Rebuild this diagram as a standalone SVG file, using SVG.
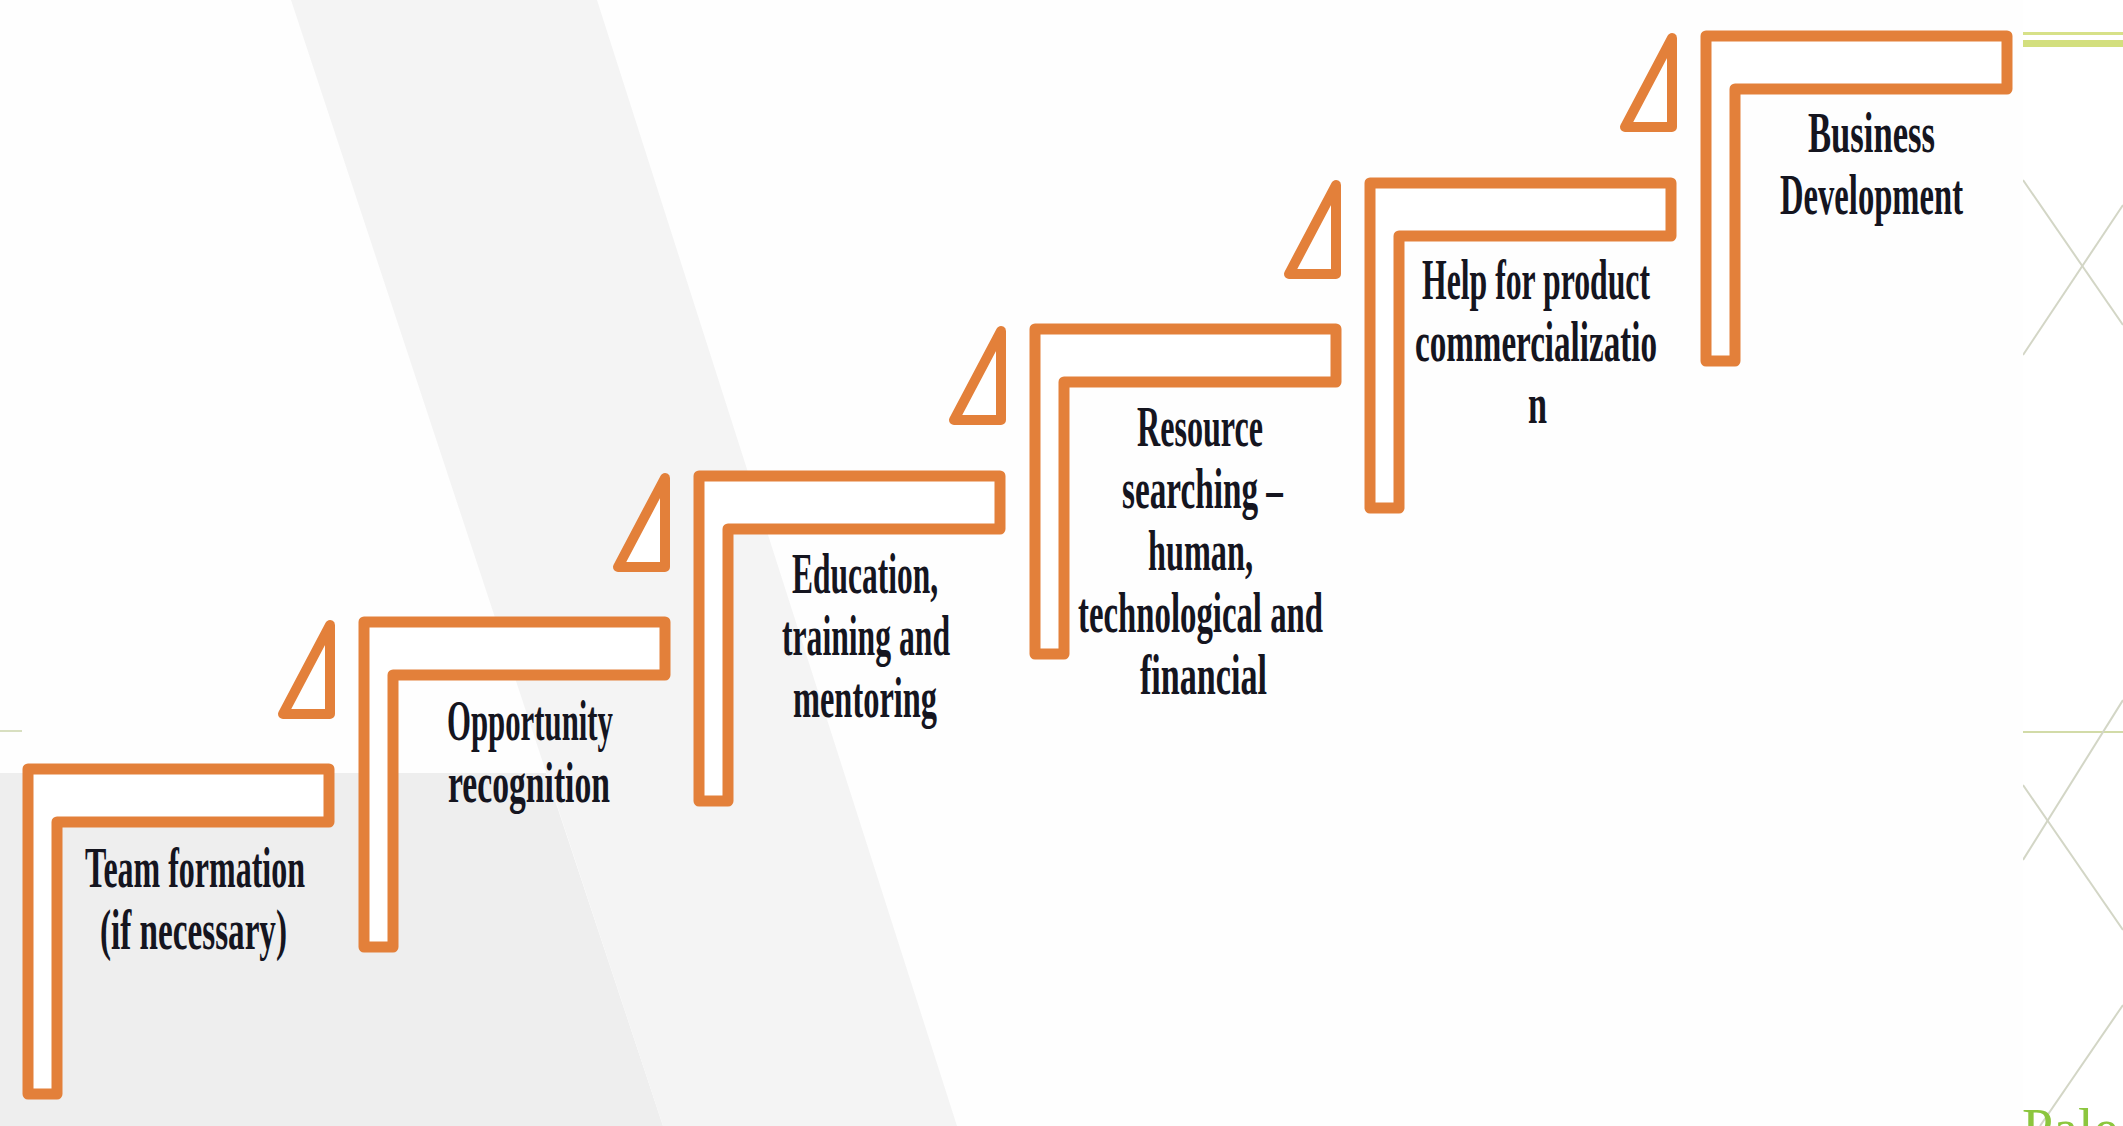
<svg xmlns="http://www.w3.org/2000/svg" width="2123" height="1126" viewBox="0 0 2123 1126">
<defs>
<style>
.step{fill:#ffffff;stroke:#E3803A;stroke-width:11;stroke-linejoin:round}
.tri{fill:#ffffff;stroke:#E3803A;stroke-width:10;stroke-linejoin:round}
.lbl{font-family:"Liberation Serif","Times New Roman",serif;font-weight:bold;font-size:57px;fill:#15151f}
.deco{stroke:#d3d6c6;stroke-width:2;fill:none}
</style>
<clipPath id="panel"><rect x="2023" y="0" width="100" height="1126"/></clipPath>
</defs>
<g id="background">
<rect x="0" y="0" width="2123" height="1126" fill="#fefefe"/>
<polygon points="0,773 546,773 663,1126 0,1126" fill="#eeeeee"/>
<polygon points="291,0 597,0 957,1126 663,1126" fill="#f4f4f4"/>
<rect x="0" y="730" width="22" height="2" fill="#d8dfc0"/>
<rect x="2023" y="0" width="100" height="1126" fill="#ffffff"/>
<rect x="2023" y="32" width="100" height="3" fill="#d7e189"/>
<rect x="2023" y="40" width="100" height="7" fill="#d3df7e"/>
<rect x="2023" y="731" width="100" height="2" fill="#d2dba8"/>
<g clip-path="url(#panel)">
<line class="deco" x1="2023" y1="180" x2="2123" y2="325"/>
<line class="deco" x1="2023" y1="355" x2="2123" y2="205"/>
<line class="deco" x1="2023" y1="860" x2="2123" y2="700"/>
<line class="deco" x1="2023" y1="785" x2="2123" y2="930"/>
<line class="deco" x1="2123" y1="1005" x2="2040" y2="1126"/>
</g>
<text x="2022" y="1148" font-family="'Liberation Serif',serif" font-size="56" fill="#8cc63e">Pale</text>
</g>
<g id="connectors">
<polygon class="tri" points="330,625 330,714 283,714"/>
<polygon class="tri" points="665,478 665,567 618,567"/>
<polygon class="tri" points="1001,331 1001,420 954,420"/>
<polygon class="tri" points="1336,185 1336,274 1289,274"/>
<polygon class="tri" points="1672,38 1672,127 1625,127"/>
</g>
<g id="step1">
<path class="step" d="M28,769 H329 V822 H57 V1094 H28 Z"/>
<text class="lbl" x="85" y="887" textLength="220" lengthAdjust="spacingAndGlyphs">Team formation</text>
<text class="lbl" x="100" y="949" textLength="187" lengthAdjust="spacingAndGlyphs">(if necessary)</text>
</g>
<g id="step2">
<path class="step" d="M364,622 H665 V675 H393 V947 H364 Z"/>
<text class="lbl" x="447" y="740" textLength="166" lengthAdjust="spacingAndGlyphs">Opportunity</text>
<text class="lbl" x="448" y="802" textLength="162" lengthAdjust="spacingAndGlyphs">recognition</text>
</g>
<g id="step3">
<path class="step" d="M699,476 H1000 V529 H728 V801 H699 Z"/>
<text class="lbl" x="792" y="593" textLength="146" lengthAdjust="spacingAndGlyphs">Education,</text>
<text class="lbl" x="782" y="655" textLength="168" lengthAdjust="spacingAndGlyphs">training and</text>
<text class="lbl" x="793" y="717" textLength="144" lengthAdjust="spacingAndGlyphs">mentoring</text>
</g>
<g id="step4">
<path class="step" d="M1035,329 H1336 V382 H1064 V654 H1035 Z"/>
<text class="lbl" x="1137" y="446" textLength="126" lengthAdjust="spacingAndGlyphs">Resource</text>
<text class="lbl" x="1122" y="508" textLength="161" lengthAdjust="spacingAndGlyphs">searching –</text>
<text class="lbl" x="1148" y="570" textLength="105" lengthAdjust="spacingAndGlyphs">human,</text>
<text class="lbl" x="1078" y="632" textLength="245" lengthAdjust="spacingAndGlyphs">technological and</text>
<text class="lbl" x="1140" y="694" textLength="127" lengthAdjust="spacingAndGlyphs">financial</text>
</g>
<g id="step5">
<path class="step" d="M1370,183 H1671 V236 H1399 V508 H1370 Z"/>
<text class="lbl" x="1422" y="299" textLength="228" lengthAdjust="spacingAndGlyphs">Help for product</text>
<text class="lbl" x="1415" y="361" textLength="242" lengthAdjust="spacingAndGlyphs">commercializatio</text>
<text class="lbl" x="1528" y="423" textLength="19" lengthAdjust="spacingAndGlyphs">n</text>
</g>
<g id="step6">
<path class="step" d="M1706,36 H2007 V89 H1735 V361 H1706 Z"/>
<text class="lbl" x="1808" y="152" textLength="127" lengthAdjust="spacingAndGlyphs">Business</text>
<text class="lbl" x="1780" y="214" textLength="183" lengthAdjust="spacingAndGlyphs">Development</text>
</g>
</svg>
